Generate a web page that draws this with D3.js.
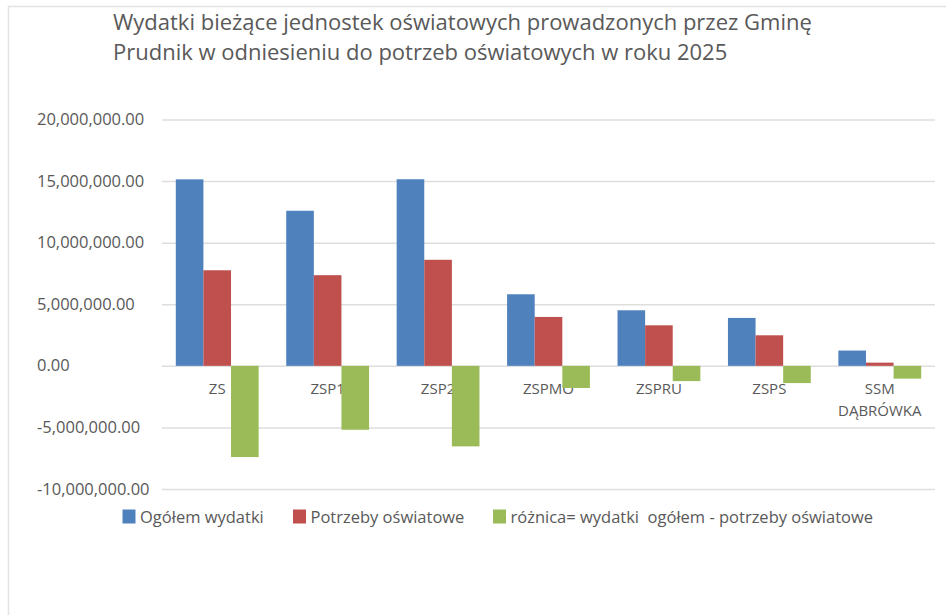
<!DOCTYPE html>
<html lang="pl">
<head>
<meta charset="utf-8">
<script src="https://cdn.jsdelivr.net/npm/d3@7"></script>
<style>
  html, body { margin: 0; padding: 0; background: #fff; }
  svg { display: block; }
  text { font-family: "Open Sans", Lato, sans-serif; fill: #595959; white-space: pre; }
</style>
</head>
<body>
<div id="chart"></div>
<script>
// Jednostki oświatowe
const categories = ["ZS", "ZSP1", "ZSP2", "ZSPMO", "ZSPRU", "ZSPS", "SSM DĄBRÓWKA"];

// Serie danych (zł)
const seriesNames = [
  "Ogółem wydatki",
  "Potrzeby oświatowe",
  "różnica= wydatki  ogółem - potrzeby oświatowe"
];
const ogolemWydatki     = [15140000, 12590000, 15150000, 5810000, 4510000, 3890000, 1240000];
const potrzebyOswiatowe = [7760000, 7360000, 8610000, 3970000, 3290000, 2480000, 260000];
const roznica           = [-7410000, -5190000, -6540000, -1800000, -1240000, -1400000, -1040000];

const yTicks = [-10000000, -5000000, 0, 5000000, 10000000, 15000000, 20000000];
const titleLines = [
  "Wydatki bieżące jednostek oświatowych prowadzonych przez Gminę",
  "Prudnik w odniesieniu do potrzeb oświatowych w roku 2025"
];
const colors = ["#4f81bd", "#c0504d", "#9bbb59"];

const W = 946, H = 615;
const svg = d3.select("#chart").append("svg")
  .attr("width", W).attr("height", H);

// ramka obszaru wykresu
svg.append("rect")
  .attr("x", 8.5).attr("y", 6.5)
  .attr("width", W + 10).attr("height", H + 10)
  .attr("fill", "none").attr("stroke", "#e4e4e4").attr("stroke-width", 1.5);

// tytuł
svg.append("g").selectAll("text").data(titleLines).join("text")
  .attr("x", 113)
  .attr("y", (d, i) => 30 + i * 30)
  .attr("font-size", 22)
  .text(d => d);

const plot = { left: 162, right: 935, top: 119.5, bottom: 489 };

const y = d3.scaleLinear().domain([-10000000, 20000000]).range([plot.bottom, plot.top]);
const x0 = d3.scaleBand().domain(categories).range([plot.left, plot.right])
  .paddingInner(0.25).paddingOuter(0.125);
const x1 = d3.scaleBand().domain(d3.range(seriesNames.length)).range([0, x0.bandwidth()]);

const fmt = d3.formatLocale({
  decimal: ".", thousands: ",", grouping: [3], currency: ["", ""], minus: "-"
}).format(",.2f");

// linie siatki
svg.append("g")
  .attr("transform", `translate(${plot.left},0)`)
  .call(d3.axisRight(y).tickValues(yTicks).tickSize(plot.right - plot.left).tickFormat(""))
  .call(g => g.select(".domain").remove())
  .call(g => g.selectAll("line").attr("stroke", "#dedede").attr("stroke-width", 1.5));

// etykiety osi Y (wyrównane do lewej)
svg.append("g").selectAll("text").data(yTicks).join("text")
  .attr("x", 37)
  .attr("y", d => y(d) + 5.5)
  .attr("font-size", 16.5)
  .text(d => fmt(d));

// etykiety kategorii (pod słupkami)
const catG = svg.append("g");
categories.forEach(c => {
  const words = c.split(" ");
  const t = catG.append("text")
    .attr("x", x0(c) + x0.bandwidth() / 2)
    .attr("y", y(0) + 28.5)
    .attr("text-anchor", "middle")
    .attr("font-size", 15);
  words.forEach((w, i) => {
    t.append("tspan")
      .attr("x", x0(c) + x0.bandwidth() / 2)
      .attr("dy", i === 0 ? 0 : 21.5)
      .text(w);
  });
});

// słupki
const series = [ogolemWydatki, potrzebyOswiatowe, roznica];
const rows = categories.map((c, i) => ({ c, vals: series.map(s => s[i]) }));
const groups = svg.append("g").selectAll("g").data(rows).join("g")
  .attr("transform", d => `translate(${x0(d.c)},0)`);
groups.selectAll("rect").data(d => d.vals.map((v, k) => ({ v, k }))).join("rect")
  .attr("x", d => x1(d.k))
  .attr("width", x1.bandwidth())
  .attr("y", d => y(Math.max(0, d.v)))
  .attr("height", d => Math.abs(y(d.v) - y(0)))
  .attr("fill", d => colors[d.k]);

// legenda
const legendX = [122.5, 293, 493];
const leg = svg.append("g").selectAll("g").data(seriesNames).join("g")
  .attr("transform", (d, i) => `translate(${legendX[i]},509.5)`);
leg.append("rect").attr("width", 13).attr("height", 14).attr("fill", (d, i) => colors[i]);
leg.append("text").attr("x", 17.5).attr("y", 13).attr("font-size", 16.5).text(d => d);
</script>
</body>
</html>
